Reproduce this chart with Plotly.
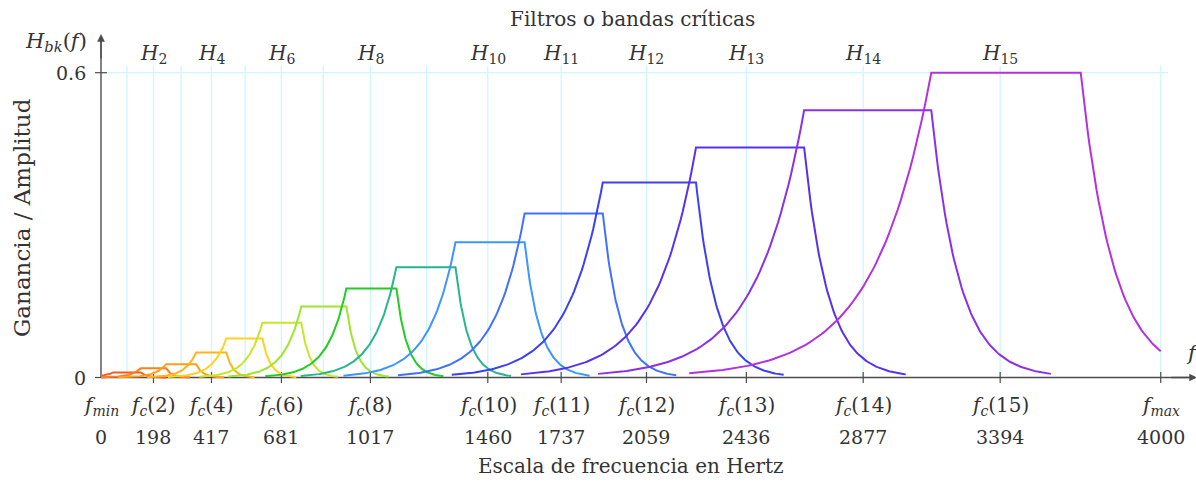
import numpy as np
import plotly.graph_objects as go

# ---------------- data ----------------
F_MIN, F_MAX = 0, 4000
filter_ids = list(range(1, 16))
centers = [98, 198, 302, 417, 544, 681, 839, 1017, 1229, 1460, 1737, 2059, 2436, 2877, 3394]
band_edges = [46, 150, 246, 359, 473, 609, 756, 926, 1115, 1338, 1599, 1894, 2246, 2654, 3134, 3698]
gains = [0.010, 0.018, 0.026, 0.049, 0.077, 0.108, 0.140, 0.175, 0.217, 0.266,
         0.323, 0.384, 0.453, 0.526, 0.600]
colors = ['#ff5a1e', '#ff7f1e', '#ff9f1a', '#ffb41a', '#ffd21e', '#c8e628', '#9ce62d',
          '#22cc22', '#28b48c', '#3c96ff', '#4070ff', '#3c40f0', '#5a30f0', '#8c30e8', '#b430e0']
labelled_filters = [2, 4, 6, 8, 10, 11, 12, 13, 14, 15]
tick_freqs = [0, 198, 417, 681, 1017, 1460, 1737, 2059, 2436, 2877, 3394, 4000]
FC = '<i>f</i><sub><i>c</i></sub>'
tick_names = ['<i>f</i><sub><i>min</i></sub>', FC + '(2)', FC + '(4)', FC + '(6)', FC + '(8)',
              FC + '(10)', FC + '(11)', FC + '(12)', FC + '(13)', FC + '(14)', FC + '(15)',
              '<i>f</i><sub><i>max</i></sub>']
tick_numbers = ['0', '198', '417', '681', '1017', '1460', '1737', '2059', '2436', '2877', '3394', '4000']
y_ticks = [0, 0.6]
y_tick_text = ['0', '0.6']

# filter skirt shape (relative to plateau width)
RISE_LEN, FALL_LEN = 1.62, 0.94
RISE_DECAY, FALL_DECAY = 4.3, 4.3

# ---------------- geometry (pixel mapping) ----------------
W, H = 1196, 484
PX0, PXS = 101.0, 0.26493      # x pixel of 0 Hz, px per Hz
PY0, PYS = 377.5, 508.0        # y pixel of 0 gain, px per unit
def fx(px):
    return (px - PX0) / PXS
def vy(py):
    return (PY0 - py) / PYS

TXT = '#333333'
AX = '#4d4d4d'
GRID = '#cdf7fb'
FONT = 'DejaVu Serif'

fig = go.Figure()

for k in range(15):
    lo, hi, h = band_edges[k], band_edges[k + 1], gains[k]
    w = hi - lo
    xr = np.linspace(lo - RISE_LEN * w, lo, 80)
    yr = h * np.exp(-RISE_DECAY * (lo - xr) / (RISE_LEN * w))
    xf = np.linspace(hi, hi + FALL_LEN * w, 80)
    yf = h * np.exp(-FALL_DECAY * (xf - hi) / (FALL_LEN * w))
    xs = np.concatenate([xr, xf])
    ys = np.concatenate([yr, yf])
    m = (xs >= F_MIN) & (xs <= F_MAX)
    xs, ys = xs[m], ys[m]
    if hi + FALL_LEN * w > F_MAX:
        xs = np.append(xs, F_MAX)
        ys = np.append(ys, h * np.exp(-FALL_DECAY * (F_MAX - hi) / (FALL_LEN * w)))
    fig.add_trace(go.Scatter(x=xs, y=ys, mode='lines',
                             line=dict(color=colors[k], width=2),
                             name='H%d' % filter_ids[k], showlegend=False,
                             hoverinfo='skip'))

shapes = []
# grid
for c in centers + [F_MAX]:
    shapes.append(dict(type='line', xref='x', yref='y', x0=c, x1=c, y0=0, y1=vy(66),
                       line=dict(color=GRID, width=1.3), layer='below'))
shapes.append(dict(type='line', xref='x', yref='y', x0=0, x1=fx(1168), y0=0.6, y1=0.6,
                   line=dict(color=GRID, width=1.3), layer='below'))
# axes lines
shapes.append(dict(type='line', xref='x', yref='y', x0=0, x1=fx(1192), y0=0, y1=0,
                   line=dict(color=AX, width=1.4), layer='below'))
shapes.append(dict(type='line', xref='x', yref='y', x0=0, x1=0, y0=0, y1=vy(40),
                   line=dict(color=AX, width=1.4), layer='below'))
# tick marks
for t in tick_freqs[1:]:
    shapes.append(dict(type='line', xref='x', yref='y', x0=t, x1=t, y0=vy(383), y1=vy(372),
                       line=dict(color=AX, width=1.2), layer='below'))
for v in y_ticks:
    shapes.append(dict(type='line', xref='x', yref='y', x0=fx(95), x1=fx(107), y0=v, y1=v,
                       line=dict(color=AX, width=1.2), layer='below'))

ann = []
def text(x, y, s, size=19, **kw):
    d = dict(x=x, y=y, xref='x', yref='y', text=s, showarrow=False,
             font=dict(family=FONT, size=size, color=TXT))
    d.update(kw)
    ann.append(d)

# arrows
ann.append(dict(x=0, y=vy(34), xref='x', yref='y', ax=0, ay=vy(60), axref='x', ayref='y',
                text='', showarrow=True, arrowhead=2, arrowsize=1.1, arrowwidth=1.4, arrowcolor=AX))
ann.append(dict(x=fx(1197), y=0, xref='x', yref='y', ax=fx(1170), ay=0, axref='x', ayref='y',
                text='', showarrow=True, arrowhead=2, arrowsize=1.1, arrowwidth=1.4, arrowcolor=AX))

text(fx(632), vy(19), 'Filtros o bandas críticas', size=20)
text(fx(631), vy(466), 'Escala de frecuencia en Hertz', size=20)
text(fx(22), vy(218), 'Ganancia / Amplitud', size=23, textangle=-90)
text(fx(89), vy(42), '<i>H</i><sub><i>bk</i></sub>(<i>f</i>)', size=21, xanchor='right')
text(fx(1184), vy(353), '<i>f</i>', size=21, xanchor='left')
for v, s in zip(y_ticks, y_tick_text):
    text(fx(88), v, s, size=19, xanchor='right')
for k in labelled_filters:
    text(centers[k - 1], vy(54), '<i>H</i><sub>%d</sub>' % k, size=20)
for t, nm, nb in zip(tick_freqs, tick_names, tick_numbers):
    text(t, vy(406), nm, size=20)
    text(t, vy(437), nb, size=19)

fig.update_layout(
    width=W, height=H, margin=dict(l=0, r=0, t=0, b=0),
    paper_bgcolor='white', plot_bgcolor='white',
    xaxis=dict(range=[fx(0), fx(W)], visible=False, fixedrange=True),
    yaxis=dict(range=[vy(H), vy(0)], visible=False, fixedrange=True),
    shapes=shapes, annotations=ann, showlegend=False,
)
fig.write_html('out.html')
